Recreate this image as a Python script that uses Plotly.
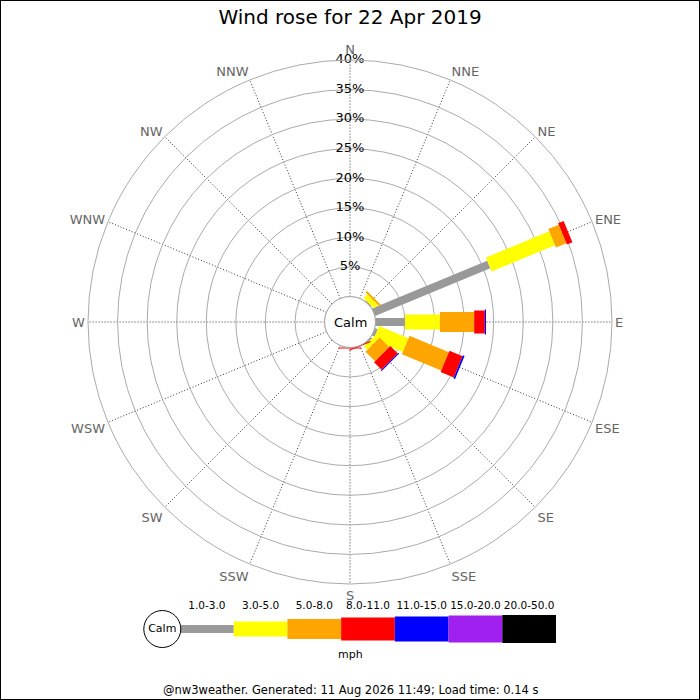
import plotly.graph_objects as go

# ---------------- data ----------------
directions = ["N", "NNE", "NE", "ENE", "E", "ESE", "SE", "SSE",
              "S", "SSW", "SW", "WSW", "W", "WNW", "NW", "NNW"]
direction_deg = [i * 22.5 for i in range(16)]

speed_bins = ["1.0-3.0", "3.0-5.0", "5.0-8.0", "8.0-11.0",
              "11.0-15.0", "15.0-20.0", "20.0-50.0"]
bin_colors = ["#999999", "#ffff00", "#ffa500", "#ff0000",
              "#0000ff", "#a020f0", "#000000"]
bin_widths = [8, 15, 20, 23, 25, 27, 28]

# percentage of time per direction for each speed bin (mph)
#            N   NNE  NE    ENE   E    ESE  SE    SSE   S    SSW SW WSW W WNW NW NNW
pct_1_3   = [0,  0,  0.2, 21.1, 5.0, 0.5, 0.3,  0,    0,   0, 0, 0, 0, 0, 0, 0]
pct_3_5   = [0,  0,  0.9, 11.6, 5.9, 5.4, 0.8,  0,    0,   0, 0, 0, 0, 0, 0, 0]
pct_5_8   = [0,  0,  0.35, 1.9, 5.8, 7.2, 2.3,  0,    0,   0, 0, 0, 0, 0, 0, 0]
pct_8_11  = [0,  0,  0,   1.0,  1.8, 2.4, 1.8,  0.15, 0.2, 0, 0, 0, 0, 0, 0, 0]
pct_11_15 = [0,  0,  0,   0,    0.2, 0.3, 0.15, 0,    0,   0, 0, 0, 0, 0, 0, 0]
pct_15_20 = [0] * 16
pct_20_50 = [0] * 16
series = [pct_1_3, pct_3_5, pct_5_8, pct_8_11, pct_11_15, pct_15_20, pct_20_50]

radial_ticks = [5, 10, 15, 20, 25, 30, 35, 40]
title_text = "Wind rose for 22 Apr 2019"
footer_text = "@nw3weather. Generated: 11 Aug 2026 11:49; Load time: 0.14 s"
unit_text = "mph"

FONT = "DejaVu Sans"

fig = go.Figure()

# ---------------- rose segments ----------------
cum = [0.0] * 16
for b, vals in enumerate(series):
    for d in range(16):
        v = vals[d]
        if v <= 0:
            continue
        r0, r1 = cum[d], cum[d] + v
        cum[d] = r1
        fig.add_trace(go.Scatterpolar(
            r=[r0, r1], theta=[direction_deg[d], direction_deg[d]],
            mode="lines", line=dict(color=bin_colors[b], width=bin_widths[b]),
            showlegend=False, hoverinfo="skip"))

# calm circle edge (hole border)
n_c = 121
fig.add_trace(go.Scatterpolar(
    r=[0] * n_c, theta=[i * 3 for i in range(n_c)], mode="lines",
    line=dict(color="#aaaaaa", width=1), showlegend=False, hoverinfo="skip"))

# radial tick labels along the N spoke
fig.add_trace(go.Scatterpolar(
    r=radial_ticks, theta=[0] * len(radial_ticks), mode="text",
    text=[f"{t}%" for t in radial_ticks], textposition="middle center",
    textfont=dict(family=FONT, size=13, color="#000000"),
    showlegend=False, hoverinfo="skip"))

# ---------------- legend strip (cartesian) ----------------
leg_y = 0.514
for i, lab in enumerate(speed_bins):
    fig.add_trace(go.Scatter(
        x=[i, i + 1], y=[leg_y, leg_y], mode="lines",
        line=dict(color=bin_colors[i], width=bin_widths[i]),
        xaxis="x", yaxis="y", showlegend=False, hoverinfo="skip"))
fig.add_trace(go.Scatter(
    x=[i + 0.5 for i in range(len(speed_bins))], y=[0.84] * len(speed_bins),
    mode="text", text=speed_bins, textposition="middle center",
    textfont=dict(family=FONT, size=10.5, color="#000000"),
    xaxis="x", yaxis="y", showlegend=False, hoverinfo="skip"))
fig.add_trace(go.Scatter(
    x=[-0.33], y=[leg_y], mode="markers+text", text=["Calm"],
    textposition="middle center",
    textfont=dict(family=FONT, size=11, color="#000000"),
    marker=dict(symbol="circle", size=37, color="white",
                line=dict(color="#000000", width=1)),
    xaxis="x", yaxis="y", showlegend=False, hoverinfo="skip"))

fig.update_layout(
    width=700, height=700,
    margin=dict(l=0, r=0, t=0, b=0),
    paper_bgcolor="white", plot_bgcolor="white",
    font=dict(family=FONT, color="#000000"),
    title=dict(text=title_text, x=0.5, xanchor="center", y=1 - 17 / 700,
               yanchor="middle", font=dict(family=FONT, size=20, color="#000000")),
    polar=dict(
        domain=dict(x=[88 / 700, 612 / 700], y=[1 - 584 / 700, 1 - 60 / 700]),
        bgcolor="white",
        hole=25.4 / 262,
        radialaxis=dict(range=[0, 40], tickvals=radial_ticks, showticklabels=False,
                        ticks="", showline=False, showgrid=True,
                        gridcolor="#aaaaaa", gridwidth=1, angle=90),
        angularaxis=dict(rotation=90, direction="clockwise",
                         tickmode="array", tickvals=direction_deg, ticktext=directions,
                         ticks="", showline=True, linecolor="#aaaaaa", linewidth=1,
                         showgrid=True, gridcolor="#333333", gridwidth=1,
                         griddash="1px,2px",
                         tickfont=dict(family=FONT, size=13, color="#666666")),
    ),
    xaxis=dict(domain=[126.3 / 700, 556 / 700], range=[-1, 7], visible=False,
               fixedrange=True),
    yaxis=dict(domain=[1 - 665 / 700, 1 - 595 / 700], range=[0, 1], visible=False,
               fixedrange=True),
    annotations=[
        dict(text="Calm", x=0.5, y=1 - 322 / 700, xref="paper", yref="paper",
             showarrow=False, xanchor="center", yanchor="middle",
             font=dict(family=FONT, size=13, color="#000000")),
        dict(text=unit_text, x=0.5, y=1 - 654 / 700, xref="paper", yref="paper",
             showarrow=False, xanchor="center", yanchor="middle",
             font=dict(family=FONT, size=11, color="#000000")),
        dict(text=footer_text, x=0.5, y=1 - 690 / 700, xref="paper", yref="paper",
             showarrow=False, xanchor="center", yanchor="middle",
             font=dict(family=FONT, size=11.5, color="#000000")),
    ],
    shapes=[dict(type="rect", xref="paper", yref="paper", x0=0, y0=0, x1=1, y1=1,
                 line=dict(color="#000000", width=2), fillcolor="rgba(0,0,0,0)")],
)

fig.write_html("out.html", config={"displayModeBar": False},
               post_script="document.body.style.margin='0';document.body.style.overflow='hidden';")
